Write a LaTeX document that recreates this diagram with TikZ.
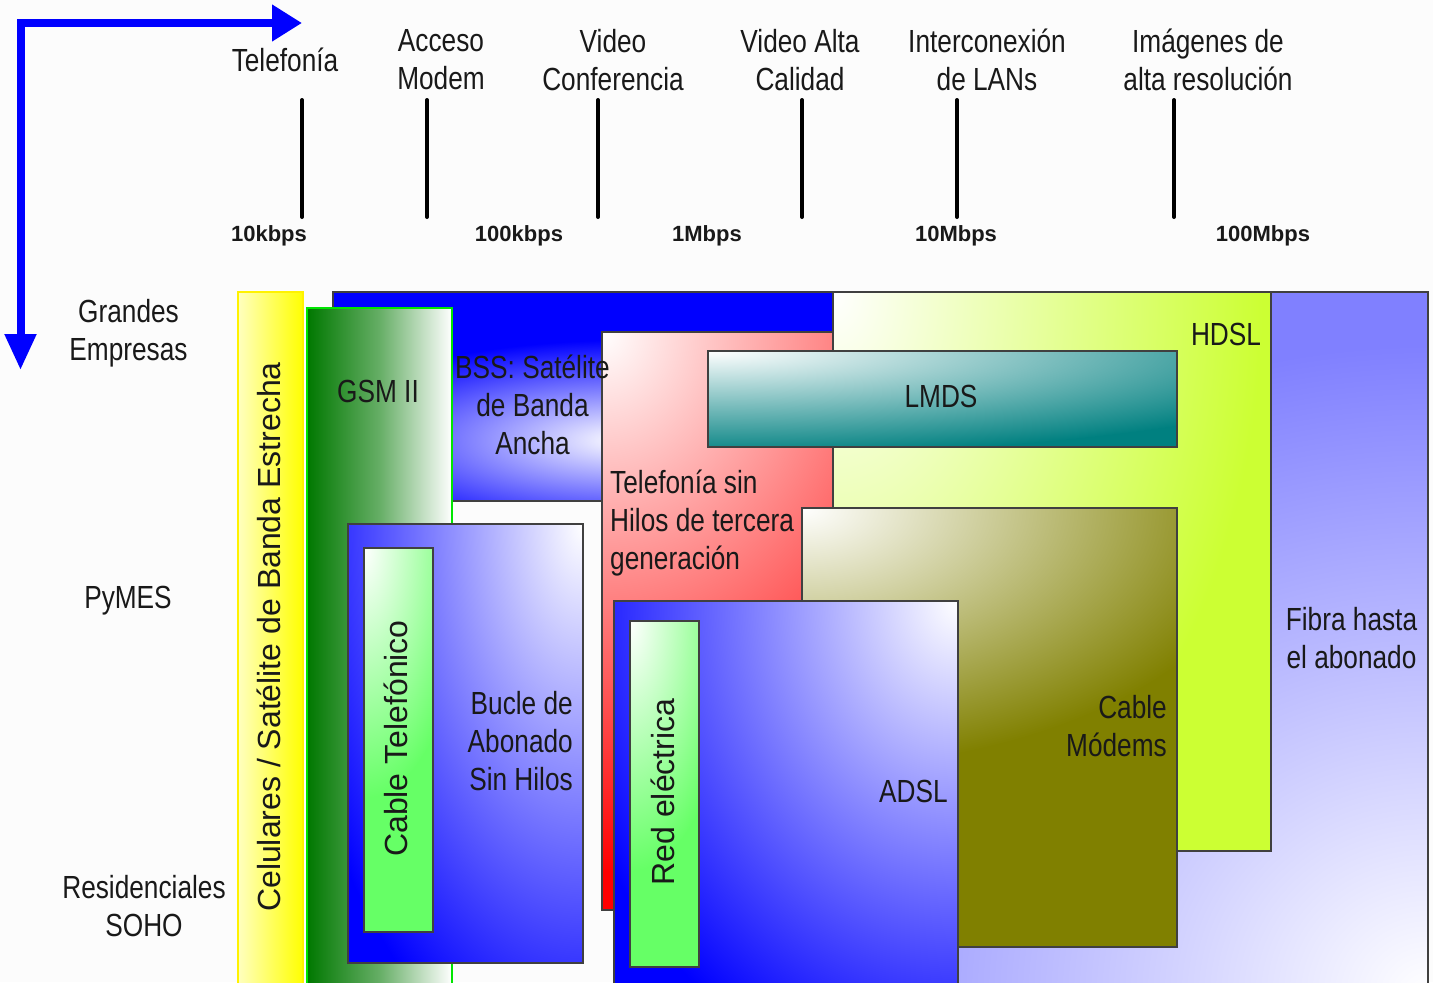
\documentclass[tikz,border=0pt]{standalone}
\usepackage{fontspec}
\setmainfont{Liberation Sans}
\newfontfamily\narrowsans[FakeStretch=0.82]{Liberation Sans}
\usetikzlibrary{arrows.meta}
\definecolor{fibraBlue}{RGB}{128,128,255}
\definecolor{hdslLime}{RGB}{204,255,51}
\definecolor{lmdsTeal}{RGB}{0,128,128}
\definecolor{cableOlive}{RGB}{128,128,0}
\definecolor{wireGreen}{RGB}{102,255,102}
\definecolor{gsmGreen}{RGB}{0,120,0}
\definecolor{gsmEdge}{RGB}{0,230,0}
\definecolor{boxEdge}{RGB}{64,64,64}
\definecolor{paper}{RGB}{252,252,252}
\colorlet{glowcolor}{blue}
\pgfdeclareradialshading[glowcolor]{cornerfade}{\pgfpointorigin}{color(0bp)=(white); color(25bp)=(glowcolor); color(50bp)=(glowcolor)}
% caja con brillo blanco: color, esquina, esquina, centro del brillo, radios
\newcommand{\glowbox}[5]{%
  \colorlet{glowcolor}{#1}%
  \fill[glowcolor] #2 rectangle #3;
  \begin{scope}
    \clip #2 rectangle #3;
    \shade[shading=cornerfade] #4 ellipse (#5);
  \end{scope}
  \draw[techbox] #2 rectangle #3;}

\begin{document}
\begin{tikzpicture}[x=1bp,y=-1bp,line join=miter,
  techbox/.style={draw=boxEdge,line width=1.5bp},
  txt/.style={inner sep=0pt,text=black!90,font=\narrowsans\fontsize{32bp}{38bp}\selectfont},
  vtxt/.style={inner sep=0pt,text=black!90,rotate=90,font=\fontsize{32bp}{38bp}\selectfont},
  rate/.style={inner sep=0pt,text=black!90,font=\fontsize{22bp}{26bp}\selectfont\bfseries},
  ratetick/.style={line width=4bp,line cap=round},
  ejeflecha/.style={blue,line width=8bp,{Triangle[length=30bp,width=35bp]}-{Triangle[length=36bp,width=30bp]}}]
%%
\path[use as bounding box,fill=paper] (0,0) rectangle (1433,982);
\clip (0,0) rectangle (1433,982);
% ejes
\coordinate (origen) at (20.5,23);
\coordinate (eje_x) at (302,23);
\coordinate (eje_y) at (20.5,370);
\draw[ejeflecha] (eje_x) -- (origen) -- (eje_y);
\foreach \x in {302,427,598,802,957,1174}
  \draw[ratetick] (\x,100) -- (\x,217);
% tecnologias
\glowbox{fibraBlue}{(834,292)}{(1428,995)}{(1428,995)}{720 and 650}
\glowbox{hdslLime}{(833,292)}{(1271,851)}{(833,292)}{430 and 620}
\glowbox{blue}{(333,292)}{(833,501)}{(625,440)}{320 and 100}
\glowbox{red}{(602,332)}{(833,910)}{(602,332)}{480 and 540}
\glowbox{lmdsTeal}{(708,351)}{(1177,447)}{(708,351)}{670 and 105}
\glowbox{cableOlive}{(802,508)}{(1177,947)}{(802,508)}{470 and 260}
\glowbox{blue}{(614,601)}{(958,995)}{(958,601)}{410 and 500}
\glowbox{wireGreen}{(630,621)}{(699,967)}{(630,621)}{106 and 250}
\draw[draw=yellow,line width=1.5bp,left color=yellow!25!white,right color=yellow] (238,292) rectangle (303,995);
\draw[draw=gsmEdge,line width=2.5bp,left color=gsmGreen,right color=white,middle color=gsmGreen!60!white] (307,308) rectangle (452,995);
\glowbox{blue}{(348,524)}{(583,963)}{(583,524)}{300 and 560}
\glowbox{wireGreen}{(364,548)}{(433,932)}{(364,548)}{106 and 250}
% textos
\node (lbl_tel) at (285,59.5) [txt] {Telefonía};
\node (lbl_modem) at (441,60) [txt,align=center] {Acceso\\Modem};
\node (lbl_conf) at (613,60) [txt,align=center] {Video\\Conferencia};
\node (lbl_hq) at (800,60) [txt,align=center] {Video Alta\\Calidad};
\node (lbl_lan) at (987,60) [txt,align=center] {Interconexión\\de LANs};
\node (lbl_img) at (1208,60) [txt,align=center] {Imágenes de\\alta resolución};
\node (rate_10k) at (269,236) [rate] {10kbps};
\node (rate_100k) at (519,236) [rate] {100kbps};
\node (rate_1M) at (707,236) [rate] {1Mbps};
\node (rate_10M) at (956,236) [rate] {10Mbps};
\node (rate_100M) at (1263,236) [rate] {100Mbps};
\node (row_big) at (128.5,333) [txt,align=center] {Grandes\\Empresas};
\node (row_pyme) at (128,601) [txt] {PyMES};
\node (row_soho) at (144,906) [txt,align=center] {Residenciales\\SOHO};
\node (t_cel) at (269,637) [vtxt] {Celulares / Satélite de Banda Estrecha};
\node (t_gsm) at (378,391) [txt] {GSM II};
\node (t_bss) at (532.5,405) [txt,align=center] {BSS: Satélite\\de Banda\\Ancha};
\node (t_3g) at (610,523.5) [txt,align=left,anchor=west] {Telefonía sin\\Hilos de tercera\\generación};
\node (t_lmds) at (941,396) [txt] {LMDS};
\node (t_hdsl) at (1226,334.5) [txt] {HDSL};
\node (t_fibra) at (1351.5,638) [txt,align=center] {Fibra hasta\\el abonado};
\node (t_cable) at (1167,726.5) [txt,align=right,anchor=east] {Cable\\Módems};
\node (t_adsl) at (913.5,791.5) [txt] {ADSL};
\node (t_bucle) at (573,741.5) [txt,align=right,anchor=east] {Bucle de\\Abonado\\Sin Hilos};
\node (t_cabtel) at (396,738.5) [vtxt] {Cable Telefónico};
\node (t_red) at (662.5,792) [vtxt] {Red eléctrica};
%
\end{tikzpicture}
\end{document}
